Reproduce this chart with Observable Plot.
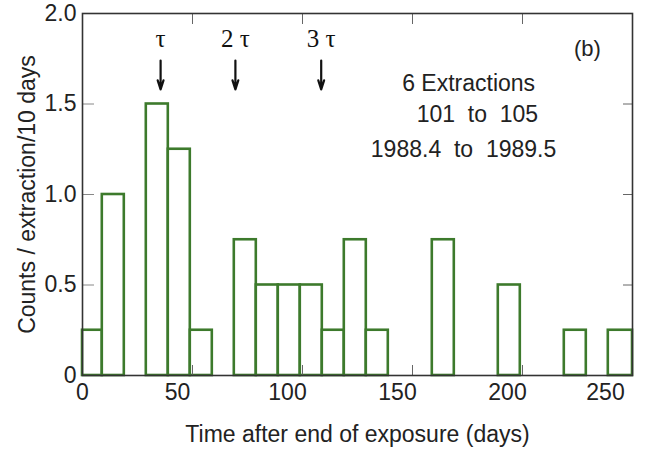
<!DOCTYPE html>
<html>
<head>
<meta charset="utf-8">
<script src="https://cdn.jsdelivr.net/npm/d3@7"></script>
<script src="https://cdn.jsdelivr.net/npm/@observablehq/plot@0.6"></script>
<style>
  html, body { margin: 0; padding: 0; background: #fff; }
</style>
</head>
<body>
<div id="chart"></div>
<script>
// Histogram bins (days after end of exposure) and counts per extraction per 10 days
const binStart = [0, 9, 29, 39, 49, 69, 79, 89, 99, 109, 119, 129, 159, 189, 219, 239];
const binEnd   = [9, 19, 39, 49, 59, 79, 89, 99, 109, 119, 129, 139, 169, 199, 229, 250];
const counts   = [0.25, 1.0, 1.5, 1.25, 0.25, 0.75, 0.5, 0.5, 0.5, 0.25, 0.75, 0.25, 0.75, 0.5, 0.25, 0.25];

// Tick values
const xTicksStart = [0];
const xTicksMid = [50, 100, 150, 200];
const xTicksEnd = [250];
const yTicks = [0, 0.5, 1.0, 1.5, 2.0];
const xInnerTicks = [50, 100, 150, 200];
const yInnerTicks = [0.5, 1.0, 1.5];

// Mean-life markers
const tauLabels = ["τ", "2 τ", "3 τ"];
const tauDays   = [35.5, 69.5, 108.5];
const tauArrowTop = 1.74;
const tauArrowTip = 1.58;
const tauLabelY = 1.86;

// Annotation text
const noteLines = ["6 Extractions", "101  to  105", "1988.4  to  1989.5"];
const noteX = [175.5, 179.5, 173.2];
const noteY = [1.611, 1.444, 1.25];
const panelLabel = "(b)";
const panelX = 229.5, panelY = 1.806;

const xTitle = "Time after end of exposure (days)";
const yTitle = "Counts / extraction/10 days";

const bars = binStart.map((s, i) => ({x1: s, x2: binEnd[i], y: counts[i]}));
const taus = tauLabels.map((t, i) => ({label: t, x: tauDays[i]}));
const notes = noteLines.map((t, i) => ({text: t, x: noteX[i], y: noteY[i]}));

const green = "#3d7a2c";
const ink = "#222";

const chart = Plot.plot({
  width: 649,
  height: 453,
  marginLeft: 82,
  marginRight: 17,
  marginTop: 13,
  marginBottom: 78,
  style: {fontFamily: "Liberation Sans, Arial, sans-serif", fontSize: "23px", color: ink, background: "#fff"},
  x: {domain: [0, 250]},
  y: {domain: [0, 2]},
  marks: [
    Plot.rect(bars, {x1: "x1", x2: "x2", y1: 0, y2: "y", fill: "white", stroke: green, strokeWidth: 2.6}),
    // inward ticks
    Plot.axisX(xInnerTicks, {anchor: "bottom", tickSize: -10, tickFormat: () => "", stroke: "#666", label: null}),
    Plot.axisX(xInnerTicks, {anchor: "top", tickSize: -10, tickFormat: () => "", stroke: "#666", label: null}),
    Plot.axisY(yInnerTicks, {anchor: "left", tickSize: -12, tickFormat: () => "", stroke: "#888", label: null}),
    Plot.axisY(yInnerTicks, {anchor: "right", tickSize: -10, tickFormat: () => "", stroke: "#666", label: null}),
    // tick labels
    Plot.axisX(xTicksStart, {anchor: "bottom", tickSize: 0, tickPadding: 8, fontSize: 23, fill: ink, label: null}),
    Plot.axisX(xTicksMid, {anchor: "bottom", tickSize: 0, tickPadding: 8, dx: -15, fontSize: 23, fill: ink, label: null}),
    Plot.axisX(xTicksEnd, {anchor: "bottom", tickSize: 0, tickPadding: 8, dx: -27, fontSize: 23, fill: ink, label: null}),
    Plot.axisY(yTicks, {anchor: "left", tickSize: 0, tickPadding: 6, fontSize: 23, fill: ink, label: null,
      tickFormat: d => d === 0 ? "0" : d.toFixed(1)}),
    Plot.frame({stroke: "#333", strokeWidth: 1.6}),
    // tau arrows
    Plot.arrow(taus, {x1: "x", x2: "x", y1: tauArrowTop, y2: tauArrowTip, stroke: "#111", strokeWidth: 2.2, headLength: 12, headAngle: 35}),
    Plot.text(taus, {x: "x", y: tauLabelY, text: "label", fontFamily: "Liberation Serif, serif", fontSize: 25, fill: "#111"}),
    // annotation
    Plot.text(notes, {x: "x", y: "y", text: "text", fontSize: 23, fill: ink}),
    Plot.text([panelLabel], {x: panelX, y: panelY, text: d => d, fontSize: 22, fill: ink}),
    // axis titles
    Plot.text([xTitle], {frameAnchor: "bottom", dy: 66, text: d => d, fontSize: 23, fill: ink}),
    Plot.text([yTitle], {frameAnchor: "left", textAnchor: "middle", dx: -55, rotate: -90, text: d => d, fontSize: 23, fill: ink})
  ]
});
document.getElementById("chart").appendChild(chart);
</script>
</body>
</html>
